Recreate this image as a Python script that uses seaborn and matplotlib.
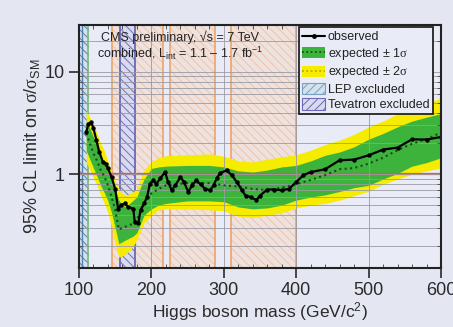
import numpy as np
import pandas as pd
import seaborn as sns
import matplotlib
matplotlib.use("Agg")
import matplotlib.pyplot as plt
from matplotlib.patches import Patch
from matplotlib.lines import Line2D
from matplotlib.ticker import LogLocator, NullFormatter, FixedLocator, FixedFormatter, MultipleLocator

# ---------------- data ----------------
exp_mass = [110, 115, 120, 125, 130, 135, 140, 145, 150, 155, 160, 165, 170, 175, 180, 185, 190,
            200, 210, 220, 250, 280, 300, 320, 340, 360, 380, 400, 420, 440, 460, 480, 500,
            520, 540, 560, 580, 600]
exp_median = [2.5, 2.0, 1.6, 1.35, 1.1, 0.95, 0.78, 0.6, 0.45, 0.29, 0.30, 0.31, 0.32, 0.33, 0.36, 0.44, 0.52,
              0.65, 0.72, 0.78, 0.82, 0.82, 0.78, 0.76, 0.72, 0.70, 0.74, 0.80, 0.88, 0.98, 1.12, 1.15, 1.27,
              1.45, 1.72, 1.98, 2.2, 2.55]
exp_1s_lo = [1.7, 1.4, 1.15, 0.95, 0.78, 0.66, 0.55, 0.42, 0.30, 0.21, 0.22, 0.23, 0.24, 0.25, 0.27, 0.33, 0.40,
             0.46, 0.50, 0.52, 0.55, 0.55, 0.54, 0.48, 0.46, 0.47, 0.50, 0.56, 0.60, 0.63, 0.68, 0.74, 0.78,
             0.90, 1.02, 1.20, 1.30, 1.45]
exp_1s_hi = [3.3, 2.8, 2.3, 1.9, 1.5, 1.3, 1.05, 0.87, 0.70, 0.56, 0.50, 0.48, 0.52, 0.56, 0.60, 0.75, 0.90,
             1.14, 1.18, 1.20, 1.22, 1.22, 1.18, 1.08, 1.05, 1.10, 1.18, 1.22, 1.35, 1.53, 1.65, 1.85, 2.2,
             2.5, 2.9, 3.3, 3.6, 3.9]
exp_2s_lo = [1.3, 1.1, 0.92, 0.78, 0.62, 0.52, 0.42, 0.31, 0.21, 0.156, 0.16, 0.17, 0.18, 0.20, 0.23, 0.28, 0.34,
             0.40, 0.45, 0.46, 0.46, 0.45, 0.44, 0.39, 0.38, 0.40, 0.42, 0.47, 0.50, 0.52, 0.56, 0.62, 0.68,
             0.80, 0.90, 1.00, 1.08, 1.15]
exp_2s_hi = [4.2, 3.6, 3.0, 2.5, 2.0, 1.7, 1.35, 1.05, 0.85, 0.73, 0.65, 0.62, 0.65, 0.68, 0.72, 0.90, 1.10,
             1.32, 1.45, 1.52, 1.55, 1.58, 1.50, 1.35, 1.32, 1.40, 1.48, 1.55, 1.72, 1.95, 2.15, 2.45, 2.9,
             3.3, 3.9, 4.5, 5.0, 5.5]

obs_mass = [110, 113, 117, 120, 124, 128, 133, 137, 140, 145, 150, 154, 158, 163, 168, 175, 177, 182,
            185, 190, 194, 198, 202, 207, 212, 219, 223, 228, 233, 240, 245, 251, 256, 262, 268,
            274, 281, 286, 290, 295, 304, 311, 318, 325, 330, 337, 345, 350, 360, 370, 380, 390,
            400, 410, 420, 440, 460, 480, 500, 520, 540, 560, 580, 600]
obs_limit = [2.6, 3.1, 3.2, 2.8, 2.15, 1.65, 1.32, 1.27, 1.14, 0.94, 0.72, 0.46, 0.50, 0.52, 0.48, 0.46, 0.34, 0.335,
             0.45, 0.52, 0.60, 0.81, 0.87, 0.81, 0.91, 1.05, 0.84, 0.70, 0.78, 0.94, 0.84, 0.67, 0.78, 0.87, 0.80,
             0.72, 0.70, 0.78, 0.91, 1.03, 1.09, 0.98, 0.84, 0.70, 0.62, 0.60, 0.56, 0.62, 0.71, 0.71, 0.70, 0.72,
             0.84, 0.98, 1.05, 1.12, 1.37, 1.39, 1.53, 1.74, 1.82, 2.19, 2.18, 2.31]

lep_region = (100, 114.4)
tevatron_region = (156, 177)
cms_excluded = [(145, 216), (226, 288), (310, 400)]

x_ticks = [100, 200, 300, 400, 500, 600]
y_ticks = [1, 10]
y_ticklabels = ["1", "10"]

# ---------------- style ----------------
sns.set_theme(style="ticks")
plt.rcParams["font.family"] = ["Liberation Sans", "DejaVu Sans"]
plt.rcParams["mathtext.fontset"] = "custom"
plt.rcParams["mathtext.rm"] = "Liberation Sans"
plt.rcParams["mathtext.it"] = "Liberation Sans:italic"
plt.rcParams["mathtext.sf"] = "Liberation Serif"
plt.rcParams["hatch.linewidth"] = 0.7

FIG_BG = "#e4e7f2"
AX_BG = "#e9ecf6"
TXT = "#2a2a2a"

fig = plt.figure(figsize=(4.53, 3.27), dpi=100, facecolor=FIG_BG)
ax = fig.add_axes([0.1744, 0.1804, 0.7991, 0.7431])
ax.set_facecolor(AX_BG)
ax.set_yscale("log")
ax.set_xlim(100, 600)
ax.set_ylim(0.122, 28.5)

# excluded regions (background)
for lo, hi in cms_excluded:
    ax.axvspan(lo, hi, facecolor="#eee2df", edgecolor="#eec3a8", hatch="\\\\\\\\", lw=0, zorder=0.3)
    for xv in (lo, hi):
        ax.axvline(xv, color="#f0a870", lw=1.3, zorder=0.6)
ax.axvspan(*tevatron_region, facecolor="#dadaee", edgecolor="#7070bc", hatch="\\\\\\\\", lw=0, zorder=0.4)
for xv in tevatron_region:
    ax.axvline(xv, color="#6a6ab8", lw=1.3, zorder=0.6)
ax.axvspan(*lep_region, facecolor="#d2e2ee", edgecolor="#5a7fa8", hatch="\\\\\\\\", lw=0, zorder=0.4)
ax.axvline(lep_region[1] - 1.5, color="#7ab87a", lw=1.2, zorder=0.6)
ax.axvline(lep_region[0] + 4, color="#5a7fa8", lw=1.0, zorder=0.6)

# grid
ax.yaxis.set_minor_locator(LogLocator(base=10, subs=np.arange(2, 10)))
ax.yaxis.set_minor_formatter(NullFormatter())
ax.grid(True, which="both", axis="y", color="#9a9aa4", lw=0.6, zorder=0.8)
ax.grid(True, which="major", axis="x", color="#9a9aa4", lw=0.6, zorder=0.8)
ax.set_axisbelow(False)

# bands
ax.fill_between(exp_mass, exp_2s_lo, exp_2s_hi, color="#f6ec00", lw=0, zorder=2)
ax.fill_between(exp_mass, exp_1s_lo, exp_1s_hi, color="#3cb43c", lw=0, zorder=2.1)

# SM line
ax.axhline(1, color="#e4583c", lw=1.6, zorder=2.5)

df_exp = pd.DataFrame({"mass": exp_mass, "limit": exp_median})
df_obs = pd.DataFrame({"mass": obs_mass, "limit": obs_limit})
sns.lineplot(data=df_exp, x="mass", y="limit", ax=ax, color="#1c4a1c", lw=1.5,
             linestyle=(0, (1, 1.6)), zorder=3)
sns.lineplot(data=df_obs, x="mass", y="limit", ax=ax, color="black", lw=1.6,
             marker="o", markersize=3.2, markeredgewidth=0, zorder=4)

# ticks / labels
ax.set_xticks(x_ticks)
ax.xaxis.set_minor_locator(MultipleLocator(20))
ax.yaxis.set_major_locator(FixedLocator(y_ticks))
ax.yaxis.set_major_formatter(FixedFormatter(y_ticklabels))
ax.tick_params(axis="both", which="major", direction="out", length=7, width=1.2,
               labelsize=13, colors=TXT, pad=3)
ax.tick_params(axis="both", which="minor", direction="in", length=3, width=0.7, colors="#555555")
ax.tick_params(axis="y", which="minor", right=True, left=True)
ax.tick_params(axis="x", which="minor", top=True, bottom=True)
for s in ax.spines.values():
    s.set_linewidth(1.5)
    s.set_color("#222222")
    s.set_zorder(6)

ax.set_xlabel("Higgs boson mass (GeV/c$^{\\mathrm{2}}$)", fontsize=12.5, color=TXT, labelpad=1)
ax.set_ylabel("95% CL limit on $\\mathsf{\\sigma}$/$\\mathsf{\\sigma}_{\\mathrm{SM}}$", fontsize=13,
              color=TXT, labelpad=2)

ax.text(0.279, 0.951, "CMS preliminary, √s = 7 TeV", transform=ax.transAxes, ha="center", va="center",
        fontsize=9, color="#222222", zorder=7)
ax.text(0.279, 0.885, "combined, L$_{\\mathrm{int}}$ = 1.1 – 1.7 fb$^{\\mathrm{-1}}$", transform=ax.transAxes,
        ha="center", va="center", fontsize=9, color="#222222", zorder=7)

# legend
h_obs = Line2D([], [], color="black", lw=1.5, marker="o", markersize=3.5, markeredgewidth=0)
h_1s = (Patch(facecolor="#3cb43c", lw=0), Line2D([], [], color="#1c4a1c", lw=1.3, linestyle=(0, (1, 1.4))))
h_2s = (Patch(facecolor="#f6ec00", lw=0), Line2D([], [], color="#c8a000", lw=1.3, linestyle=(0, (1, 1.4))))
h_lep = Patch(facecolor="#d2e2ee", edgecolor="#7aa0c0", hatch="////", lw=0.8)
h_tev = Patch(facecolor="#dadaee", edgecolor="#6a6ab8", hatch="////", lw=0.8)
leg = ax.legend([h_obs, h_1s, h_2s, h_lep, h_tev],
                ["observed", "expected ± 1$\\mathsf{\\sigma}$", "expected ± 2$\\mathsf{\\sigma}$",
                 "LEP excluded", "Tevatron excluded"],
                loc="upper right", bbox_to_anchor=(0.977, 0.99), borderaxespad=0,
                prop={"size": 9}, frameon=True, fancybox=False,
                handlelength=1.9, handleheight=1.0, handletextpad=0.2, labelspacing=0.2,
                borderpad=0.25)
leg.get_frame().set_edgecolor("#222222")
leg.get_frame().set_linewidth(1.3)
leg.get_frame().set_facecolor(AX_BG)
leg.get_frame().set_alpha(1)
leg.set_zorder(8)
for t in leg.get_texts():
    t.set_color("#222222")

fig.savefig("out.png", dpi=100, facecolor=FIG_BG)
